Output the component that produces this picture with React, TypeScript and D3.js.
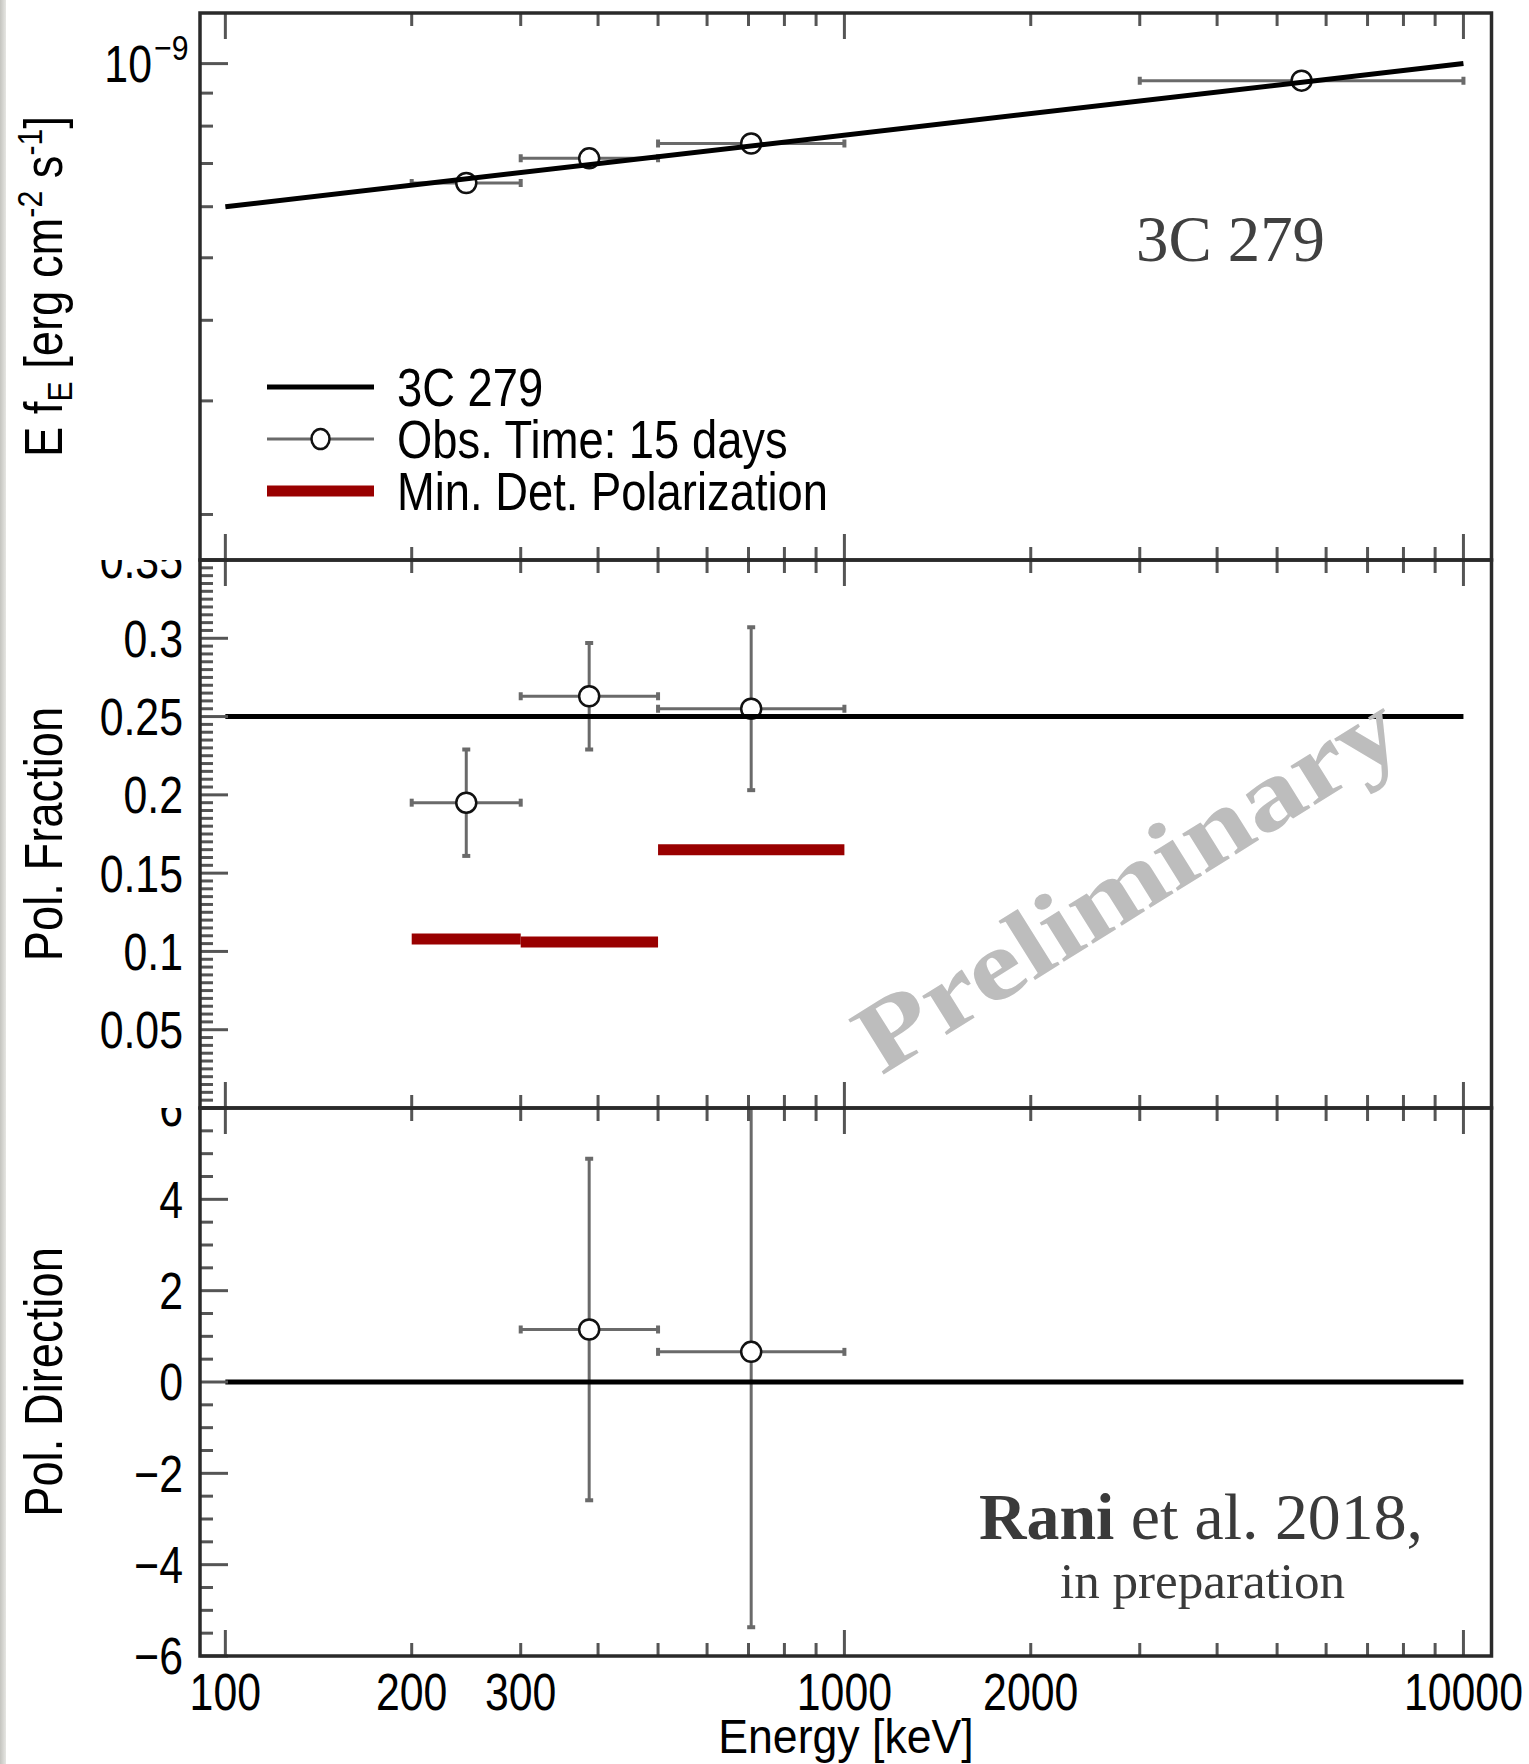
import React from "react";
import * as d3 from "d3";

// ---------- data ----------
const binLow = [200, 300, 500, 3000];
const binHigh = [300, 500, 1000, 10000];
const binCenter = [245, 387, 707, 5477];
const fluxValue = [6.53e-10, 7.13e-10, 7.52e-10, 9.41e-10];

const modelEnergy = [100, 10000];
const modelFlux = [6.0e-10, 1.0e-9];
const modelFrac = [0.25, 0.25];
const modelDir = [0, 0];

const fracBins = [0, 1, 2];
const fracValue = [0.195, 0.263, 0.255];
const fracErr = [0.034, 0.034, 0.052];

const mdpValue = [0.108, 0.106, 0.165];

const dirBins = [1, 2];
const dirValue = [1.15, 0.66];
const dirErr = [3.74, 6.03];

const xTickLabels = ["100", "200", "300", "1000", "2000", "10000"];
const xTickValues = [100, 200, 300, 1000, 2000, 10000];
const fracTickValues = [0.05, 0.1, 0.15, 0.2, 0.25, 0.3, 0.35];
const fracTickLabels = ["0.05", "0.1", "0.15", "0.2", "0.25", "0.3", "0.35"];
const dirTickValues = [-6, -4, -2, 0, 2, 4, 6];
const dirTickLabels = ["\u22126", "\u22124", "\u22122", "0", "2", "4", "6"];

const legendLabels = ["3C 279", "Obs. Time: 15 days", "Min. Det. Polarization"];

// ---------- layout ----------
const W = 1529;
const H = 1764;
const FL = 200;
const FR = 1491.5;
const P1: [number, number] = [13, 560];
const P2: [number, number] = [560, 1108];
const P3: [number, number] = [1108, 1656];

const SANS = "'Liberation Sans', Arial, Helvetica, sans-serif";
const SERIF = "'Liberation Serif', 'Times New Roman', serif";
const NARROW = 0.84;
const TICK_COLOR = "#555";
const FRAME_COLOR = "#2a2a2a";
const ERR_COLOR = "#6a6a6a";
const RED = "#990000";

const xScale = d3.scaleLog().domain([91, 11100]).range([FL, FR]);
const y1 = d3.scaleLog().domain([1.7e-10, 1.198e-9]).range([P1[1], P1[0]]);
const y2 = d3.scaleLinear().domain([0, 0.35]).range([P2[1], P2[0]]);
const y3 = d3.scaleLinear().domain([-6, 6]).range([P3[1], P3[0]]);

function NText(props: any) {
  const { x, y, rot = 0, size, anchor = "start", fill = "#000", dy, children, sx = NARROW, weight } = props;
  return (
    <text
      transform={`translate(${x},${y}) rotate(${rot}) scale(${sx},1)`}
      fontSize={size}
      textAnchor={anchor}
      fontFamily={SANS}
      fill={fill}
      dy={dy}
      fontWeight={weight}
    >
      {children}
    </text>
  );
}

function XTicks({ top, bottom }: { top: number; bottom: number }) {
  const ticks = xScale.ticks();
  return (
    <g stroke={TICK_COLOR} strokeWidth={3}>
      {ticks.map((t, i) => {
        const major = Math.abs(Math.log10(t) - Math.round(Math.log10(t))) < 1e-9;
        const len = major ? 26 : 13;
        const x = xScale(t);
        return (
          <g key={i}>
            <line x1={x} x2={x} y1={top} y2={top + len} />
            <line x1={x} x2={x} y1={bottom} y2={bottom - len} />
          </g>
        );
      })}
    </g>
  );
}

function YTicks({ ticks, scale, isMajor }: { ticks: number[]; scale: any; isMajor: (v: number) => boolean }) {
  return (
    <g stroke={TICK_COLOR} strokeWidth={3}>
      {ticks.map((t, i) => {
        const len = isMajor(t) ? 28 : 13;
        const y = scale(t);
        return <line key={i} x1={FL} x2={FL + len} y1={y} y2={y} />;
      })}
    </g>
  );
}

function ErrPoint({ cx, cy, xl, xr, yt, yb }: any) {
  const cap = 4;
  return (
    <g stroke={ERR_COLOR} strokeWidth={3}>
      <line x1={xl} x2={xr} y1={cy} y2={cy} />
      <line x1={xl} x2={xl} y1={cy - cap} y2={cy + cap} strokeWidth={4} />
      <line x1={xr} x2={xr} y1={cy - cap} y2={cy + cap} strokeWidth={4} />
      {yt !== undefined && (
        <g>
          <line x1={cx} x2={cx} y1={yt} y2={yb} />
          <line x1={cx - cap} x2={cx + cap} y1={yt} y2={yt} strokeWidth={4} />
          <line x1={cx - cap} x2={cx + cap} y1={yb} y2={yb} strokeWidth={4} />
        </g>
      )}
    </g>
  );
}

function Marker({ cx, cy }: { cx: number; cy: number }) {
  return <circle cx={cx} cy={cy} r={10} fill="#fff" stroke="#111" strokeWidth={2.5} />;
}

export default function App() {
  const lineTop = d3
    .line<number>()
    .x((_, i) => xScale(modelEnergy[i]))
    .y((d) => y1(d));
  const lineFrac = d3
    .line<number>()
    .x((_, i) => xScale(modelEnergy[i]))
    .y((d) => y2(d));
  const lineDir = d3
    .line<number>()
    .x((_, i) => xScale(modelEnergy[i]))
    .y((d) => y3(d));

  const y1Ticks = y1.ticks();
  const y2Ticks = y2.ticks(70);
  const y3Ticks = y3.ticks(24);
  const isMul = (v: number, s: number) => Math.abs(v / s - Math.round(v / s)) < 1e-6;

  const legX1 = 267;
  const legX2 = 374;
  const legTextX = 397;
  const legRows = [387, 439, 491];

  return (
    <svg
      width={W}
      height={H}
      viewBox={`0 0 ${W} ${H}`}
      style={{ position: "absolute", left: 0, top: 0, background: "#fff" }}
    >
      <defs>
        <clipPath id="c1">
          <rect x={FL} y={P1[0]} width={FR - FL} height={P1[1] - P1[0]} />
        </clipPath>
        <clipPath id="c2">
          <rect x={FL} y={P2[0]} width={FR - FL} height={P2[1] - P2[0]} />
        </clipPath>
        <clipPath id="c3">
          <rect x={FL} y={P3[0]} width={FR - FL} height={P3[1] - P3[0]} />
        </clipPath>
        <clipPath id="l2">
          <rect x={0} y={P2[0]} width={FL} height={P2[1] - P2[0]} />
        </clipPath>
        <clipPath id="l3">
          <rect x={0} y={P3[0]} width={FL} height={H - P3[0]} />
        </clipPath>
        <linearGradient id="edge" x1="0" x2="1" y1="0" y2="0">
          <stop offset="0" stopColor="#c4c4bf" />
          <stop offset="1" stopColor="#e6e6e3" />
        </linearGradient>
      </defs>

      <rect x={0} y={0} width={W} height={H} fill="#fff" />
      <rect x={0} y={0} width={6} height={H} fill="url(#edge)" />

      {/* ---------- Panel 1: spectrum ---------- */}
      <g clipPath="url(#c1)">
        {binCenter.map((e, i) => (
          <ErrPoint key={i} cx={xScale(e)} cy={y1(fluxValue[i])} xl={xScale(binLow[i])} xr={xScale(binHigh[i])} />
        ))}
        {binCenter.map((e, i) => (
          <Marker key={i} cx={xScale(e)} cy={y1(fluxValue[i])} />
        ))}
        <path d={lineTop(modelFlux) || ""} stroke="#000" strokeWidth={5} fill="none" />
      </g>

      {/* ---------- Panel 2: polarization fraction ---------- */}
      <g clipPath="url(#c2)">
        {fracBins.map((b, i) => (
          <ErrPoint
            key={i}
            cx={xScale(binCenter[b])}
            cy={y2(fracValue[i])}
            xl={xScale(binLow[b])}
            xr={xScale(binHigh[b])}
            yt={y2(fracValue[i] + fracErr[i])}
            yb={y2(fracValue[i] - fracErr[i])}
          />
        ))}
        {fracBins.map((b, i) => (
          <Marker key={i} cx={xScale(binCenter[b])} cy={y2(fracValue[i])} />
        ))}
        <path d={lineFrac(modelFrac) || ""} stroke="#000" strokeWidth={5} fill="none" />
        {mdpValue.map((v, i) => (
          <line
            key={i}
            x1={xScale(binLow[i])}
            x2={xScale(binHigh[i])}
            y1={y2(v)}
            y2={y2(v)}
            stroke={RED}
            strokeWidth={11}
          />
        ))}
      </g>

      {/* ---------- Panel 3: polarization direction ---------- */}
      <g clipPath="url(#c3)">
        {dirBins.map((b, i) => (
          <ErrPoint
            key={i}
            cx={xScale(binCenter[b])}
            cy={y3(dirValue[i])}
            xl={xScale(binLow[b])}
            xr={xScale(binHigh[b])}
            yt={y3(dirValue[i] + dirErr[i])}
            yb={y3(dirValue[i] - dirErr[i])}
          />
        ))}
        {dirBins.map((b, i) => (
          <Marker key={i} cx={xScale(binCenter[b])} cy={y3(dirValue[i])} />
        ))}
        <path d={lineDir(modelDir) || ""} stroke="#000" strokeWidth={5} fill="none" />
      </g>

      {/* ---------- ticks ---------- */}
      <XTicks top={P1[0]} bottom={P1[1]} />
      <XTicks top={P2[0]} bottom={P2[1]} />
      <XTicks top={P3[0]} bottom={P3[1]} />
      <YTicks ticks={y1Ticks} scale={y1} isMajor={(v) => Math.abs(v - 1e-9) < 1e-12} />
      <YTicks ticks={y2Ticks} scale={y2} isMajor={(v) => isMul(v, 0.05)} />
      <YTicks ticks={y3Ticks} scale={y3} isMajor={(v) => isMul(v, 2)} />

      {/* ---------- frames ---------- */}
      <g fill="none" stroke={FRAME_COLOR} strokeWidth={3.5}>
        <rect x={FL} y={P1[0]} width={FR - FL} height={P1[1] - P1[0]} />
        <rect x={FL} y={P2[0]} width={FR - FL} height={P2[1] - P2[0]} />
        <rect x={FL} y={P3[0]} width={FR - FL} height={P3[1] - P3[0]} />
      </g>

      {/* ---------- tick labels ---------- */}
      <NText x={152} y={82} size={51} anchor="end">10</NText>
      <NText x={154} y={60} size={36} anchor="start">{"\u22129"}</NText>
      <g clipPath="url(#l2)">
        {fracTickValues.map((v, i) => (
          <NText key={i} x={183} y={y2(v)} size={51} anchor="end" dy="0.36em">
            {fracTickLabels[i]}
          </NText>
        ))}
      </g>
      <g clipPath="url(#l3)">
        {dirTickValues.map((v, i) => (
          <NText key={i} x={183} y={y3(v)} size={51} anchor="end" dy="0.36em">
            {dirTickLabels[i]}
          </NText>
        ))}
      </g>
      {xTickValues.map((v, i) => (
        <NText key={i} x={xScale(v)} y={1710} size={51} anchor="middle">
          {xTickLabels[i]}
        </NText>
      ))}

      {/* ---------- axis titles ---------- */}
      <NText x={846} y={1753} size={48} sx={0.93} anchor="middle">Energy [keV]</NText>
      <text
        transform={`translate(62,${(P1[0] + P1[1]) / 2}) rotate(-90) scale(${NARROW},1)`}
        fontSize={54}
        textAnchor="middle"
        fontFamily={SANS}
      >
        <tspan>E f</tspan>
        <tspan fontSize={36} dy={10}>E</tspan>
        <tspan dy={-10}> [erg cm</tspan>
        <tspan fontSize={36} dy={-20}>-2</tspan>
        <tspan dy={20}> s</tspan>
        <tspan fontSize={36} dy={-20}>-1</tspan>
        <tspan dy={20}>]</tspan>
      </text>
      <NText x={62} y={(P2[0] + P2[1]) / 2} rot={-90} size={54} anchor="middle">Pol. Fraction</NText>
      <NText x={62} y={(P3[0] + P3[1]) / 2} rot={-90} size={54} anchor="middle">Pol. Direction</NText>

      {/* ---------- legend ---------- */}
      <line x1={legX1} x2={legX2} y1={legRows[0]} y2={legRows[0]} stroke="#000" strokeWidth={5} />
      <line x1={legX1} x2={legX2} y1={legRows[1]} y2={legRows[1]} stroke={ERR_COLOR} strokeWidth={3} />
      <ellipse cx={(legX1 + legX2) / 2} cy={legRows[1]} rx={9} ry={10} fill="#fff" stroke="#111" strokeWidth={2.5} />
      <line x1={legX1} x2={legX2} y1={legRows[2]} y2={legRows[2]} stroke={RED} strokeWidth={11} />
      {legendLabels.map((t, i) => (
        <NText key={i} x={legTextX} y={legRows[i]} size={54} anchor="start" dy="0.36em">
          {t}
        </NText>
      ))}

      {/* ---------- annotations ---------- */}
      <text x={1136} y={261} fontSize={65} fontFamily={SERIF} fill="#404040" textLength={189} lengthAdjust="spacingAndGlyphs">
        3C 279
      </text>
      <text
        transform="translate(1128,884) rotate(-32)"
        fontSize={100}
        fontWeight="bold"
        fontFamily={SERIF}
        fill="#bdbdbd"
        textAnchor="middle"
        dy="0.32em"
        textLength={622}
        lengthAdjust="spacingAndGlyphs"
      >
        Preliminary
      </text>
      <text x={979} y={1539} fontSize={65} fontFamily={SERIF} fill="#3a3a3a" textLength={444} lengthAdjust="spacingAndGlyphs">
        <tspan fontWeight="bold">Rani</tspan>
        <tspan> et al. 2018,</tspan>
      </text>
      <text x={1060} y={1598} fontSize={50} fontFamily={SERIF} fill="#3a3a3a" textLength={285} lengthAdjust="spacingAndGlyphs">
        in preparation
      </text>
    </svg>
  );
}
